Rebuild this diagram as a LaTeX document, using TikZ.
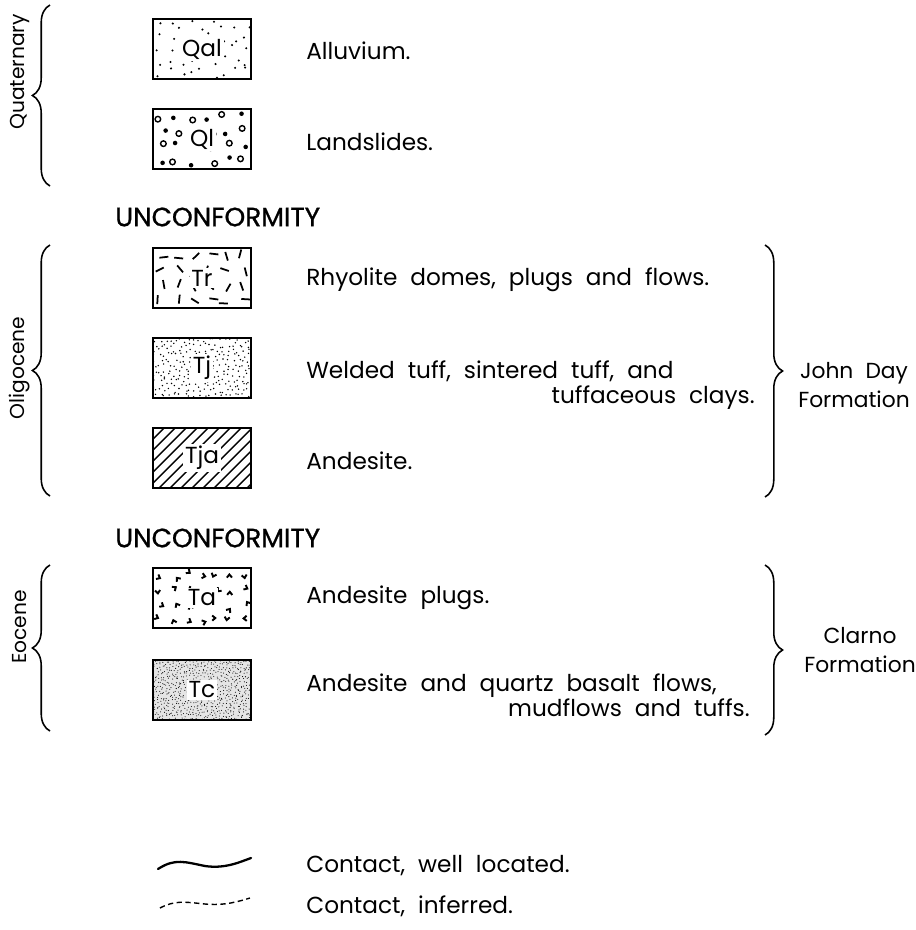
\documentclass[tikz,border=0pt]{standalone}
\usepackage{fontspec}
\setmainfont[WordSpace=2.1]{Poppins}
\newfontfamily\headfont[FakeBold=1]{Poppins}
\usetikzlibrary{decorations.pathreplacing}

\newcommand{\sprinkle}[5]{% columns, rows, pitch x, pitch y, radius
  \foreach \i in {1,...,#1}{\foreach \j in {1,...,#2}{
    \fill ({(\i-0.5)*#3+0.45*#3*rand},{(\j-0.5)*#4+0.45*#4*rand}) circle (#5);}}}

\begin{document}
\begin{tikzpicture}[
    x=0.02cm,y=-0.02cm,font=\fontsize{13.2}{15}\selectfont,
    unit/.style={draw, line width=1.2pt, minimum width=1.96cm, minimum height=1.2cm, inner sep=0pt},
    tag/.style={fill=white, inner sep=1pt},
    note/.style={anchor=west, inner sep=0pt},
    era/.style={rotate=90, inner sep=0pt, font=\fontsize{11.5}{13}\selectfont},
    head/.style={anchor=west, inner sep=0pt, font=\headfont\fontsize{15}{17}\selectfont},
    fm/.style={align=center, inner sep=0pt, font=\fontsize{12.4}{14}\selectfont},
    brace/.style={decorate, decoration={brace, amplitude=10pt}, line width=0.9pt}
    ]
    \useasboundingbox (0,0) rectangle (916,930);
    \pgfmathsetseed{11}
    \coordinate (qal) at (202,49);
    \coordinate (ql) at (202,139);
    \coordinate (tr) at (202,278);
    \coordinate (tj) at (202,368);
    \coordinate (tja) at (202,458);
    \coordinate (ta) at (202,598);
    \coordinate (tc) at (202,690);
    % unit patterns
    \begin{scope}[shift={(153,19)}]
      \sprinkle{9}{5}{10.9}{12}{0.65pt}
    \end{scope}
    \begin{scope}[shift={(153,109)}]
      \foreach \i in {1,...,6}{\foreach \j in {1,...,4}{
        \pgfmathsetmacro\rx{(\i-0.5)*16.3+5*rand}\pgfmathsetmacro\ry{(\j-0.5)*15+4*rand}
        \ifodd\numexpr\i+\j\relax
          \fill (\rx,\ry) circle (1.3pt);
        \else
          \draw[thick] (\rx,\ry) circle (1.6pt);
        \fi}}
    \end{scope}
    \begin{scope}[shift={(153,248)}]
      \foreach \i in {1,...,6}{\foreach \j in {1,...,4}{
        \pgfmathsetmacro\rx{(\i-0.5)*16.3+4*rand}\pgfmathsetmacro\ry{(\j-0.5)*15+3*rand}
        \pgfmathsetmacro\ang{360*rnd}
        \draw[line width=1pt] (\rx,\ry) +(\ang:4.5) -- +(\ang+180:4.5);}}
    \end{scope}
    \begin{scope}[shift={(153,338)}]
      \sprinkle{20}{12}{4.9}{5}{0.45pt}
    \end{scope}
    \begin{scope}[shift={(153,428)}]
      \clip (0,0) rectangle (98,60);
      \foreach \d in {-60,-49,...,110}{\draw[line width=0.8pt] (\d,60) -- ++(60,-60);}
    \end{scope}
    \begin{scope}[shift={(153,568)}]
      \foreach \i in {1,...,7}{\foreach \j in {1,...,4}{
        \pgfmathsetmacro\rx{(\i-0.5)*14+3.5*rand}\pgfmathsetmacro\ry{(\j-0.5)*15+3.5*rand}
        \pgfmathsetmacro\ang{360*rnd}
        \draw[line width=1.1pt] (\rx,\ry) +(\ang:4) -- (\rx,\ry) -- +(\ang+80:4);}}
    \end{scope}
    \begin{scope}[shift={(153,660)}]
      \fill[black!10] (0,0) rectangle (98,60);
      \sprinkle{33}{20}{2.97}{3}{0.3pt}
    \end{scope}
    % unit boxes
    \node[unit] (qalbox) at (qal) {};
    \node[unit] (qlbox) at (ql) {};
    \node[unit] (trbox) at (tr) {};
    \node[unit] (tjbox) at (tj) {};
    \node[unit] (tjabox) at (tja) {};
    \node[unit] (tabox) at (ta) {};
    \node[unit] (tcbox) at (tc) {};
    \node[tag] at (qal) {Qal};
    \node[tag] at (ql) {Ql};
    \node[tag] at (tr) {Tr};
    \node[tag] at (tj) {Tj};
    \node[tag] at (tja) {Tja};
    \node[tag] at (ta) {Ta};
    \node[tag] at (tc) {Tc};
    % descriptions
    \node[note] (qaltext) at (306,51) {Alluvium.};
    \node[note] (qltext) at (306,142) {Landslides.};
    \node[note] (trtext) at (306,280) {Rhyolite domes, plugs and flows.};
    \node[note] (tjtext) at (306,371) {Welded tuff, sintered tuff, and};
    \node[note, anchor=east] (tjtextb) at (755,398) {tuffaceous clays.};
    \node[note] (tjatext) at (306,461) {Andesite.};
    \node[note] (tatext) at (306,598) {Andesite plugs.};
    \node[note] (tctext) at (306,686) {Andesite and quartz basalt flows,};
    \node[note, anchor=east] (tctextb) at (750,708) {mudflows and tuffs.};
    \node[head] (unconfa) at (115,217) {UNCONFORMITY};
    \node[head] (unconfb) at (115,538) {UNCONFORMITY};
    % ages and formations
    \draw[brace] (50,186) -- (50,5);
    \draw[brace] (50,496) -- (50,245);
    \draw[brace] (50,731) -- (50,565);
    \draw[brace] (765,245) -- (765,497);
    \draw[brace] (765,565) -- (765,735);
    \node[era] (quat) at (20,72) {Quaternary};
    \node[era] (olig) at (20,368) {Oligocene};
    \node[era] (eoc) at (20,627) {Eocene};
    \node[fm] (johnday) at (854,385) {John Day\\[3pt]Formation};
    \node[fm] (clarno) at (860,650) {Clarno\\[3pt]Formation};
    % legend
    \coordinate (wella) at (158,869);
    \coordinate (wellb) at (251,858);
    \coordinate (infa) at (160,908);
    \coordinate (infb) at (250,898);
    \draw[line width=1.3pt, line cap=round] (wella) .. controls (175,858) and (185,862) .. (205,866)
      .. controls (225,869) and (240,862) .. (wellb);
    \draw[line width=0.8pt, dash pattern=on 3pt off 2pt] (infa) .. controls (175,900) and (185,902) .. (205,904)
      .. controls (225,906) and (240,901) .. (infb);
    \node[note] (welltext) at (306,866) {Contact, well located.};
    \node[note] (inftext) at (306,906) {Contact, inferred.};
\end{tikzpicture}
\end{document}
